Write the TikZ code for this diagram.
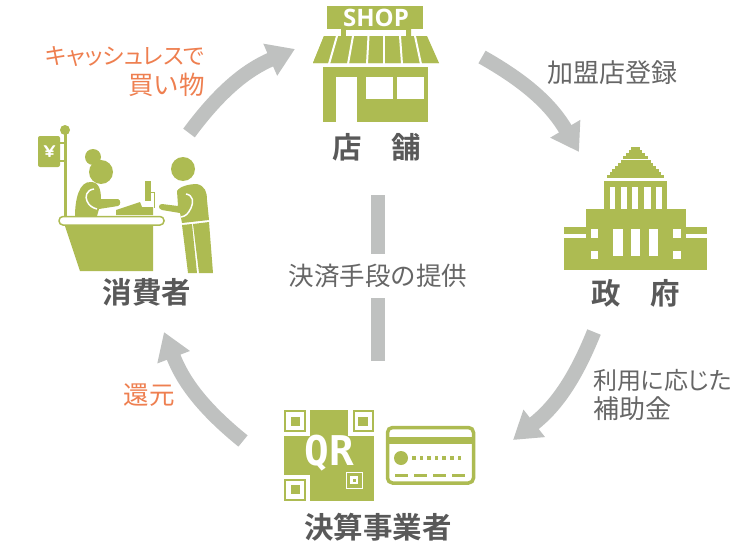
\documentclass[tikz,border=0pt]{standalone}
\usepackage{fontspec}
\usetikzlibrary{arrows.meta}
\newfontfamily\jpfont{Noto Sans CJK JP}
\newfontfamily\jpnarrow[RawFeature=+palt]{Noto Sans CJK JP}
\newfontfamily\jpbold{Noto Sans CJK JP Bold}
\newfontfamily\qrfont{DejaVu Sans Mono}
\newfontfamily\shopfont{Open Sans}
\definecolor{icongreen}{HTML}{ADBB52}
\definecolor{flowgray}{HTML}{BFC1C0}
\definecolor{labelgray}{HTML}{595959}
\definecolor{notegray}{HTML}{666666}
\definecolor{noteorange}{HTML}{EE7F50}
\tikzset{
  green/.style={fill=icongreen,draw=none},
  hole/.style={fill=white,draw=none},
  flow/.style={draw=flowgray,line width=14.5pt,-{Triangle[length=27pt,width=33pt]}},
  bar/.style={draw=flowgray,line width=14pt},
  who/.style={text=labelgray,font=\fontsize{29.5}{30}\selectfont\jpbold,inner sep=0pt},
  note/.style={text=notegray,font=\fontsize{26}{29.5}\selectfont\jpfont,inner sep=0pt,align=left},
  perk/.style={text=noteorange,font=\fontsize{25.5}{30}\selectfont\jpfont,inner sep=0pt,align=right}
}
\begin{document}
\begin{tikzpicture}[x=1pt,y=-1pt]
  \useasboundingbox (0,0) rectangle (750,546);
  \node [who] (shop) at (377,147) {店　舗};
  \node [who] (gov) at (636,293) {政　府};
  \node [who] (payer) at (378,527) {決算事業者};
  \node [who] (buyer) at (147,292) {消費者};
  \node [note] (register) at (612,73) {加盟店登録};
  \node [note,anchor=west] (subsidy) at (593,395) {{\fontsize{24}{29.5}\selectfont\jpnarrow 利用に応じた}\\補助金};
  \node [note,minimum height=43pt,font=\fontsize{25.5}{29.5}\selectfont\jpfont] (means) at (378,276) {決済手段の提供};
  \node [perk,anchor=east] (cashless) at (205,72) {{\fontsize{22.8}{30}\selectfont\jpnarrow キャッシュレスで}\\買い物};
  \node [perk] (rebate) at (149,395) {還元};
  \coordinate (buyerout) at (189,133);
  \coordinate (shopin) at (295,49);
  \coordinate (shopout) at (482,57);
  \coordinate (govin) at (579,152);
  \coordinate (govout) at (594,332);
  \coordinate (payerin) at (513,440);
  \coordinate (payerout) at (243,441);
  \coordinate (buyerin) at (164,332);
  \coordinate (bartop) at (378,195);
  \coordinate (barbot) at (378,361);

  \path [flow] (buyerout) to [bend left=15] (shopin);
  \path [flow] (shopout) to [bend left=15] (govin);
  \path [flow] (govout) to [bend left=15] (payerin);
  \path [flow] (payerout) to [bend left=15] (buyerin);
  \path [bar] (bartop) -- (means);
  \path [bar] (barbot) -- (means);

  \fill [green] (341,29) -- (411,29) -- (411,36) -- (439,63) -- (313,63) -- (324,36) -- (341,36) -- cycle;
  \fill [green] (324,36) -- (427,36) -- (439,63) -- (313,63) -- cycle;
  \fill [green] (327,6) rectangle (423,29);
  \node [text=white,font=\fontsize{24}{24}\selectfont\shopfont\bfseries,inner sep=0pt] (shopsign) at (376,17.5) {SHOP};
  \fill [hole] (346,29.5) rectangle (406,36);
  \foreach \a/\b in {337/329,353/348,368.5/367,384/384,400/402,415/421}
    \draw [white,line width=2pt] (\a,36) -- (\b,64);
  \fill [green] (323,67) rectangle (428,122);
  \fill [hole] (336,77) rectangle (357,122);
  \fill [hole] (366,77) rectangle (393,99);
  \fill [hole] (397,77) rectangle (424,99);

  \fill [green] (63.5,130) rectangle (67,216);
  \fill [green] (65,130) circle (5);
  \fill [green,rounded corners=2pt] (38,136) rectangle (60,167);
  \fill [green] (60,142) rectangle (63.5,144);
  \fill [green] (60,160) rectangle (63.5,162);
  \node [text=white,font=\fontsize{17}{17}\selectfont\sffamily\bfseries,inner sep=0pt] (yen) at (49.5,152) {¥};
  \fill [green] (93,157) circle (8);
  \fill [green] (101,172) circle (12);
  \fill [green] (75,216) .. controls (75,200) and (79,181) .. (91,182) .. controls (99,182) and (101,190) .. (101,199) -- (118,199) .. controls (121,200) and (121,205) .. (118,206) -- (99,209) -- (97,216) -- cycle;
  \draw [white,line width=1.5pt] (94,189) .. controls (86,190) and (85,197) .. (87,201) .. controls (89,206) and (93,208) .. (97,209);
  \fill [green] (116,210) -- (140,202) -- (142,207) -- (153,207) -- (153,215) -- (116,215) -- cycle;
  \fill [green] (145,181) rectangle (151,201);
  \draw [icongreen,line width=1pt] (151,192) -- (154,192) -- (154,208);
  \fill [green] (65,226) -- (153,226) -- (153,271) -- (80,271) -- cycle;
  \draw [icongreen,fill=white,line width=1.5pt,rounded corners=4pt] (59,216.5) rectangle (164,225);
  \fill [green] (183,169) circle (12);
  \fill [green] (177,191) .. controls (180,186) and (190,184) .. (197,184) .. controls (205,186) and (207,192) .. (207,200) -- (209,220) -- (182,223) -- (180,213) -- (162,210) .. controls (158,209) and (158,204) .. (162,204) -- (178,206) -- cycle;
  \draw [white,line width=1.5pt] (186,194) .. controls (193,195) and (194,202) .. (191,208) .. controls (188,214) and (186,216) .. (181,217);
  \fill [green] (182,225) -- (192,224) -- (197,273) -- (188,273) -- cycle;
  \fill [green] (193,224) -- (209,222) -- (213,273) -- (199,273) -- cycle;

  \foreach \i in {0,...,9}
    \fill [green] (607+2.7*\i,178-3.1*\i) rectangle (664-2.7*\i,175-3.1*\i);
  \fill [green] (604,181) rectangle (667,210);
  \foreach \a/\b in {610/615,621/627,632/638,644/651,656/662}
    \fill [hole] (\a,187) rectangle (\b,208.5);
  \fill [green] (586,209) rectangle (686,270);
  \fill [green] (564,227) rectangle (707,270);
  \fill [hole] (564,234) rectangle (586,237.5);
  \fill [hole] (686,234) rectangle (707,237.5);
  \fill [hole] (591,229) rectangle (598,238);
  \fill [hole] (591,251) rectangle (598,259);
  \fill [hole] (673,229) rectangle (681,238);
  \fill [hole] (673,251) rectangle (681,259);
  \fill [hole] (613,229) rectangle (623,256);
  \fill [hole] (631,229) rectangle (640,256);
  \fill [hole] (649,229) rectangle (658,256);

  \fill [green] (284,410) rectangle (374,501);
  \fill [hole] (284,410) rectangle (310,436);
  \fill [hole] (348,410) rectangle (374,436);
  \fill [hole] (284,475) rectangle (310,501);
  \draw [icongreen,line width=2pt] (285,411) rectangle (305,431);
  \draw [icongreen,line width=2pt] (354,411) rectangle (373,431);
  \draw [icongreen,line width=2pt] (285,480) rectangle (305,500);
  \fill [green] (291,417) rectangle (300,426);
  \fill [green] (358,417) rectangle (368,426);
  \fill [green] (291,485) rectangle (300,494);
  \draw [white,line width=.6pt] (346,472) rectangle (362,488);
  \fill [hole] (350,476) rectangle (358,484);
  \fill [green] (352.5,478.5) rectangle (355.5,481.5);
  \node [text=white,font=\fontsize{41}{41}\selectfont\qrfont\bfseries,inner sep=0pt] (qr) at (329.5,453) {QR};

  \draw [icongreen,line width=3.5pt,fill=white,rounded corners=5pt] (387.5,427.5) rectangle (473.5,483);
  \fill [green] (388,437) rectangle (473,444);
  \fill [green] (401,458) circle (7);
  \foreach \x in {412,419.6,...,465}
    \fill [green] (\x,456) rectangle (\x+3.5,460);
  \foreach \x in {395,414,433,452}
    \fill [green] (\x,473.5) rectangle (\x+13,477);
\end{tikzpicture}
\end{document}
